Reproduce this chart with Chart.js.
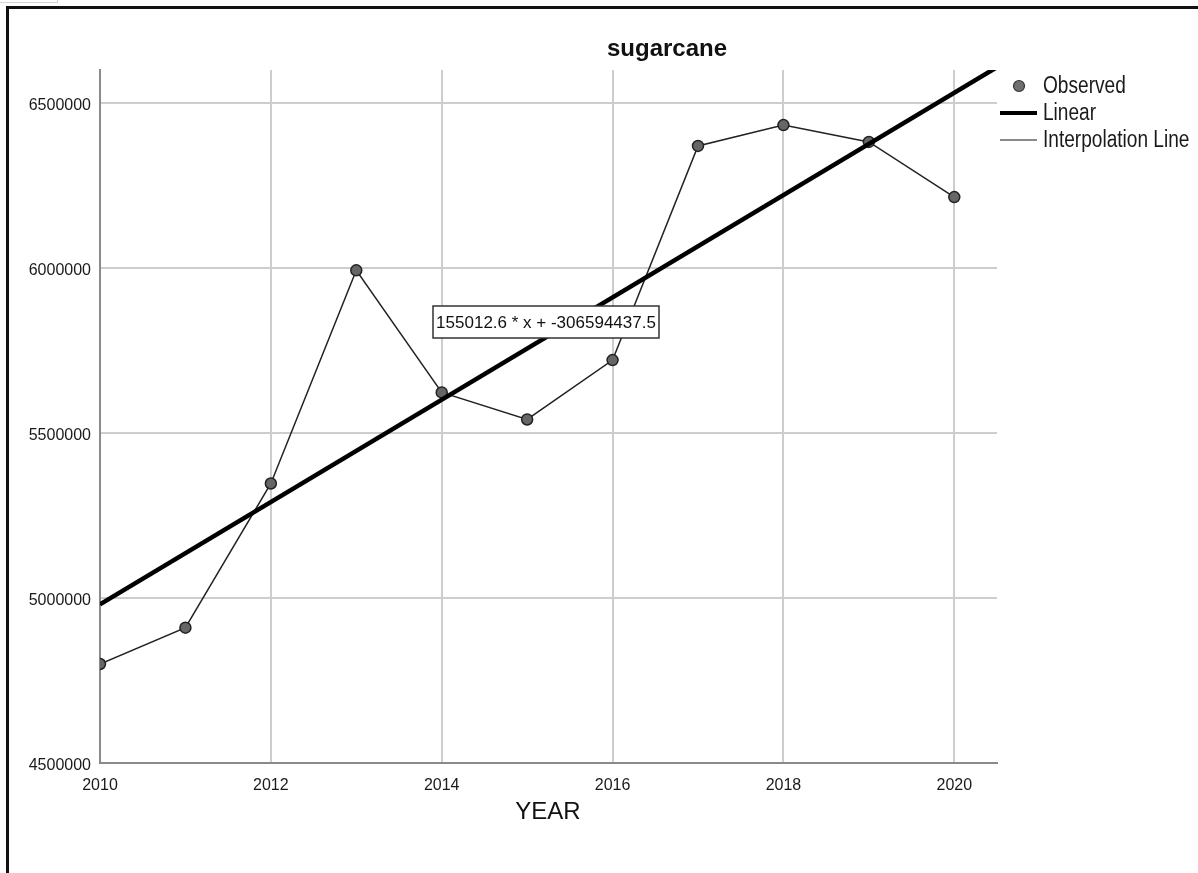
<!DOCTYPE html>
<html>
<head>
<meta charset="utf-8">
<title>sugarcane</title>
<script src="https://cdn.jsdelivr.net/npm/chart.js@4.4.1/dist/chart.umd.min.js"></script>
<style>
  html, body { margin: 0; padding: 0; background: #fff; }
  #wrap { position: relative; width: 1198px; height: 873px; overflow: hidden; }
  #tab { position: absolute; left: -1px; top: -1px; width: 57px; height: 2px; border: 1px solid #d4d4d4; }
  #frame { position: absolute; left: 6px; top: 6px; right: -10px; bottom: -10px;
           border-left: 3px solid #111; border-top: 3px solid #111; pointer-events: none; }
</style>
</head>
<body>
<div id="wrap">
  <canvas id="chart" width="1198" height="873"></canvas>
  <div id="tab"></div>
  <div id="frame"></div>
</div>
<script>
// yearly sugarcane production
const years = [2010, 2011, 2012, 2013, 2014, 2015, 2016, 2017, 2018, 2019, 2020];
const production = [4800000, 4910000, 5347000, 5993000, 5623000, 5541000, 5721000, 6370000, 6433000, 6382000, 6215000];

const xTicks = [2010, 2012, 2014, 2016, 2018, 2020];
const yTicks = [4500000, 5000000, 5500000, 6000000, 6500000];

// fitted linear trend
const fitSlope = 155012.6;
const fitIntercept = -306594437.5;
const fitRange = [2010, 2020.5];

const legendLabels = ["Observed", "Linear", "Interpolation Line"];
const chartTitle = "sugarcane";
const xTitle = "YEAR";

const FONT = "'Liberation Sans', Arial, sans-serif";
const observed = years.map((x, i) => ({ x: x, y: production[i] }));

// title, axis caption, equation box and legend
const annotations = {
    id: "annotations",
    afterDraw(chart) {
        const ctx = chart.ctx;
        ctx.save();
        ctx.fillStyle = "#111";
        ctx.textAlign = "center";
        ctx.textBaseline = "alphabetic";
        ctx.font = "bold 24px " + FONT;
        ctx.fillText(chartTitle, 667, 56);

        ctx.font = "24px " + FONT;
        ctx.fillText(xTitle, 548, 819);

        // equation box
        const label = `${fitSlope} * x + ${fitIntercept}`;
        ctx.fillStyle = "#fff";
        ctx.fillRect(433, 306, 226, 32);
        ctx.strokeStyle = "#333";
        ctx.lineWidth = 1.5;
        ctx.strokeRect(433, 306, 226, 32);
        ctx.fillStyle = "#111";
        ctx.font = "17px " + FONT;
        ctx.textBaseline = "middle";
        ctx.fillText(label, 546, 323);

        // legend
        const rows = [86, 113, 140];
        ctx.beginPath();
        ctx.arc(1019, rows[0], 5.5, 0, Math.PI * 2);
        ctx.fillStyle = "#6f6f6f";
        ctx.fill();
        ctx.strokeStyle = "#333";
        ctx.lineWidth = 1.2;
        ctx.stroke();

        ctx.beginPath();
        ctx.moveTo(1000, rows[1]);
        ctx.lineTo(1037, rows[1]);
        ctx.strokeStyle = "#000";
        ctx.lineWidth = 4;
        ctx.stroke();

        ctx.beginPath();
        ctx.moveTo(1000, rows[2]);
        ctx.lineTo(1037, rows[2]);
        ctx.strokeStyle = "#8a8a8a";
        ctx.lineWidth = 2;
        ctx.stroke();

        ctx.fillStyle = "#1a1a1a";
        ctx.font = "23px " + FONT;
        ctx.textAlign = "left";
        legendLabels.forEach((text, i) => {
            ctx.save();
            ctx.translate(1043, rows[i] + 1);
            ctx.scale(0.83, 1);
            ctx.fillText(text, 0, 0);
            ctx.restore();
        });
        ctx.restore();
    },
};

new Chart(document.getElementById("chart"), {
    type: "scatter",
    data: {
        datasets: [
            {
                label: legendLabels[1],
                data: fitRange.map((x) => ({ x: x, y: fitSlope * x + fitIntercept })),
                showLine: true,
                borderColor: "#000",
                borderWidth: 4.5,
                pointRadius: 0,
                pointHoverRadius: 0,
                order: 0,
            },
            {
                label: legendLabels[0],
                data: observed,
                showLine: false,
                pointRadius: 5.5,
                pointHoverRadius: 5.5,
                pointBackgroundColor: "#666",
                pointBorderColor: "#222",
                pointBorderWidth: 1.5,
                order: 1,
            },
            {
                label: legendLabels[2],
                data: observed,
                showLine: true,
                borderColor: "#222",
                borderWidth: 1.5,
                pointRadius: 0,
                pointHoverRadius: 0,
                order: 2,
            },
        ],
    },
    options: {
        responsive: false,
        animation: false,
        devicePixelRatio: 1,
        layout: {
            padding: { top: 70, right: 201, left: 0, bottom: 0 },
        },
        plugins: {
            legend: { display: false },
            tooltip: { enabled: false },
            title: { display: false },
        },
        scales: {
            x: {
                type: "linear",
                min: fitRange[0],
                max: fitRange[1],
                afterBuildTicks: (scale) => {
                    scale.ticks = xTicks.map((v) => ({ value: v }));
                },
                afterFit: (scale) => {
                    scale.height = 110;
                },
                ticks: {
                    padding: 13,
                    maxRotation: 0,
                    color: "#1a1a1a",
                    font: { family: FONT, size: 16 },
                    callback: (v) => String(v),
                },
                grid: { color: "#cdcdcd", lineWidth: 2, drawTicks: false },
                border: { color: "#8a8a8a", width: 2 },
            },
            y: {
                type: "linear",
                min: 4500000,
                max: 6600000,
                afterBuildTicks: (scale) => {
                    scale.ticks = yTicks.map((v) => ({ value: v }));
                },
                afterFit: (scale) => {
                    scale.width = 100;
                },
                ticks: {
                    padding: 9,
                    labelOffset: 3,
                    color: "#1a1a1a",
                    font: { family: FONT, size: 16 },
                    callback: (v) => String(v),
                },
                grid: { color: "#cdcdcd", lineWidth: 2, drawTicks: false },
                border: { color: "#8a8a8a", width: 2 },
            },
        },
    },
    plugins: [annotations],
});
</script>
</body>
</html>
